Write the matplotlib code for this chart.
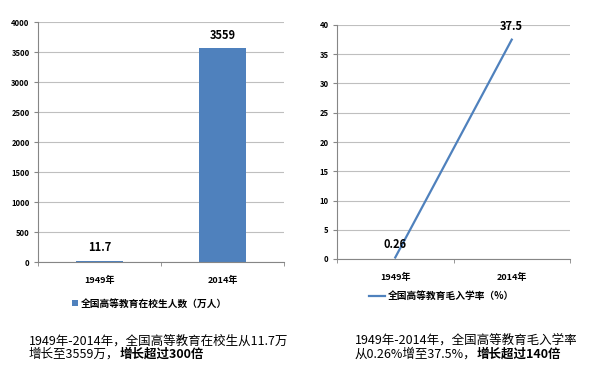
import matplotlib.pyplot as plt

plt.rcParams['font.family'] = ['Noto Sans CJK SC', 'DejaVu Sans']

years = ['1949年', '2014年']
students = [11.7, 3559]          # 万人
enroll_rate = [0.26, 37.5]       # %

student_label = '全国高等教育在校生人数（万人）'
rate_label = '全国高等教育毛入学率（%）'

blue = '#4F81BD'
grid_c = '#BFBFBF'
axis_c = '#868686'

fig = plt.figure(figsize=(6, 3.66), dpi=100)
fig.patch.set_facecolor('white')


def style_axes(ax, ymax, step):
    ax.set_xlim(-0.5, 1.5)
    ax.set_ylim(0, ymax)
    ax.set_yticks(range(0, ymax + 1, step))
    ax.grid(axis='y', color=grid_c, linewidth=0.8)
    ax.set_axisbelow(True)
    for s in ['top', 'right']:
        ax.spines[s].set_visible(False)
    for s in ['left', 'bottom']:
        ax.spines[s].set_color(axis_c)
        ax.spines[s].set_linewidth(0.8)
    ax.set_xticks([0, 1])
    ax.set_xticklabels(years, fontsize=6.5, fontweight='bold')
    ax.set_xticks([-0.5, 0.5, 1.5], minor=True)
    ax.tick_params(axis='x', which='major', length=0, pad=10)
    ax.tick_params(axis='x', which='minor', length=3, color=axis_c)
    ax.tick_params(axis='y', length=3, color=axis_c, labelsize=5.5, pad=3)
    for t in ax.get_yticklabels():
        t.set_fontweight('bold')


# left: bar chart
ax1 = fig.add_axes([38 / 600, 104 / 366, 246 / 600, 240 / 366])
style_axes(ax1, 4000, 500)
bars = ax1.bar([0, 1], students, width=0.39, color=blue)
for i, v in enumerate(students):
    ax1.annotate(f'{v:g}', (i, v), xytext=(0, 5), textcoords='offset points',
                 ha='center', va='bottom', fontsize=8, fontweight='bold')
ax1.legend([bars], [student_label], loc='upper center', bbox_to_anchor=(0.455, -0.115),
           frameon=False, handlelength=0.6, handleheight=0.6,
           handletextpad=0.3, prop={'weight': 'bold', 'size': 7})

# right: line chart
ax2 = fig.add_axes([337 / 600, 107 / 366, 233 / 600, 234 / 366])
style_axes(ax2, 40, 5)
line, = ax2.plot([0, 1], enroll_rate, color=blue, linewidth=1.6)
for i, v in enumerate(enroll_rate):
    ax2.annotate(f'{v:g}', (i, v), xytext=(0, 5), textcoords='offset points',
                 ha='center', va='bottom', fontsize=8, fontweight='bold')
ax2.legend([line], [rate_label], loc='upper center', bbox_to_anchor=(0.45, -0.1),
           frameon=False, handlelength=1.6, handletextpad=0.3,
           prop={'weight': 'bold', 'size': 7})


def caption(x, y1, y2, line1, line2_reg, line2_bold):
    fig.text(x, y1, line1, fontsize=9, va='center', ha='left')
    t = fig.text(x, y2, line2_reg, fontsize=9, va='center', ha='left')
    fig.texts.append(plt.Annotation(line2_bold, xy=(1, 0.5), xycoords=t,
                                    va='center', ha='left', fontsize=9,
                                    fontweight='bold'))
    fig.texts[-1].set_figure(fig)


caption(29 / 600, 1 - 341 / 366, 1 - 354 / 366,
        '1949年-2014年，全国高等教育在校生从11.7万',
        '增长至3559万，', '增长超过300倍')
caption(355 / 600, 1 - 340 / 366, 1 - 354 / 366,
        '1949年-2014年，全国高等教育毛入学率',
        '从0.26%增至37.5%，', '增长超过140倍')

fig.savefig('out.png', dpi=100)
